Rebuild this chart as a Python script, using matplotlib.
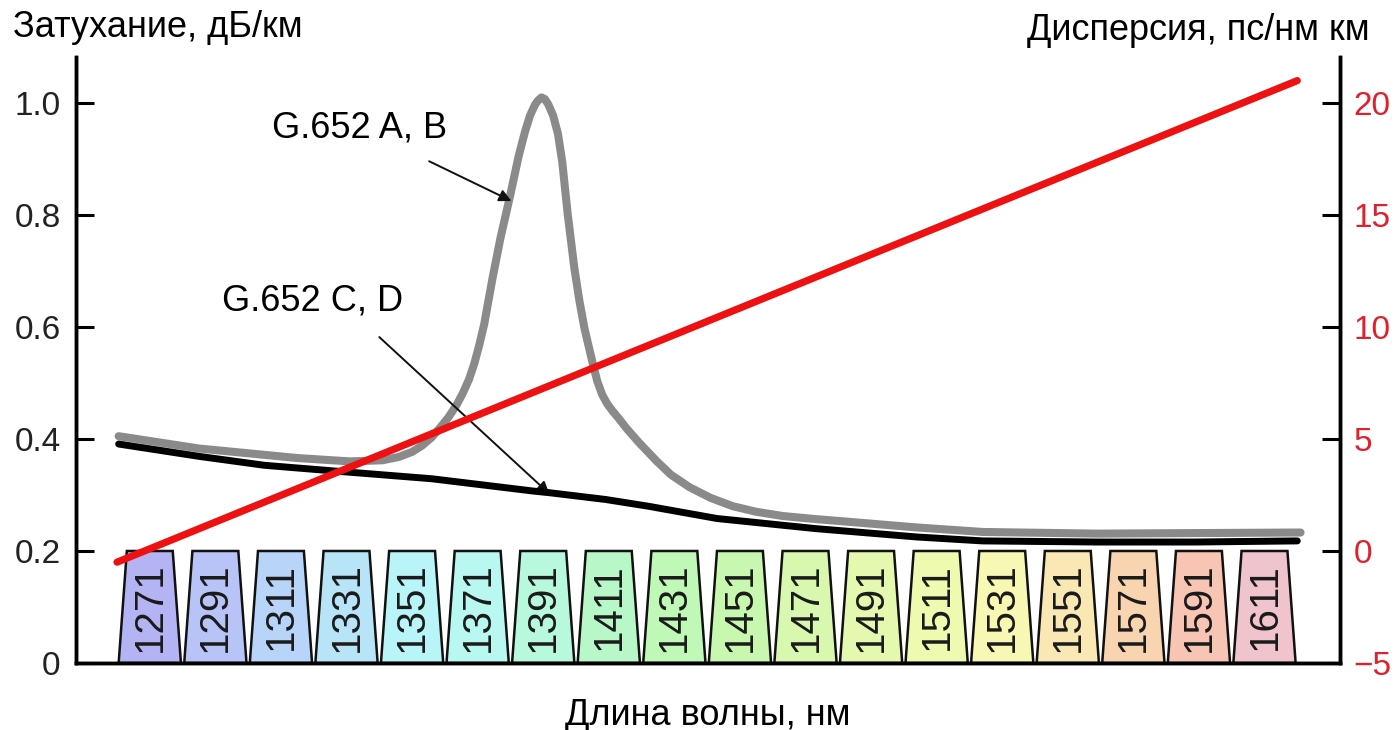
import matplotlib
matplotlib.use("Agg")
import matplotlib.pyplot as plt
from matplotlib.patches import Polygon

plt.rcParams['font.family'] = ['Liberation Sans', 'DejaVu Sans']

# CWDM channel grid
channels = [1271, 1291, 1311, 1331, 1351, 1371, 1391, 1411, 1431,
            1451, 1471, 1491, 1511, 1531, 1551, 1571, 1591, 1611]
channel_colors = ['#b4b4f4', '#b8c4f8', '#b8d4f8', '#b8e4f8', '#b8f4f8', '#b8f8f0',
                  '#b8f8dc', '#b8f8c8', '#c0f8b8', '#c8f8b0', '#d8f8b0', '#e4f8b0',
                  '#eefab0', '#f6f8b4', '#fae8b4', '#f8d4b0', '#f8c4b4', '#f0c4cc']

# attenuation, G.652 A/B (water peak)
ab_wl = [1261.5, 1286, 1316, 1332, 1342, 1347, 1351, 1354, 1357, 1359.5, 1362, 1364.5,
         1366.5, 1368.4, 1370, 1371.5, 1373, 1375.5, 1378, 1380.7, 1383.5, 1385.5, 1387,
         1388.5, 1389.5, 1390.5, 1391.5, 1392.5, 1394, 1395.5, 1396.8, 1398.5, 1400.5,
         1402, 1403.6, 1406, 1407.5, 1409, 1410.5, 1412, 1414, 1416.4, 1420, 1425.5,
         1430, 1435.6, 1442, 1448.8, 1456, 1464, 1474, 1484.5, 1505, 1525, 1560, 1590, 1622]
ab_att = [0.405, 0.383, 0.366, 0.360, 0.362, 0.368, 0.377, 0.388, 0.403, 0.420, 0.438, 0.460,
          0.482, 0.507, 0.535, 0.568, 0.605, 0.686, 0.760, 0.829, 0.905, 0.950, 0.978,
          0.997, 1.005, 1.010, 1.007, 0.998, 0.978, 0.945, 0.895, 0.800, 0.705,
          0.648, 0.597, 0.5375, 0.503, 0.479, 0.463, 0.451, 0.437, 0.419, 0.395, 0.361,
          0.336, 0.314, 0.295, 0.280, 0.270, 0.2625, 0.257, 0.252, 0.242, 0.234, 0.231, 0.232, 0.233]

# attenuation, G.652 C/D (low water peak)
cd_wl = [1261.5, 1286, 1306, 1327, 1357, 1388, 1393, 1410, 1423, 1444, 1474,
         1505, 1525, 1560, 1590, 1621]
cd_att = [0.391, 0.369, 0.353, 0.343, 0.329, 0.307, 0.304, 0.292, 0.280, 0.258, 0.240,
          0.225, 0.218, 0.216, 0.216, 0.218]

# chromatic dispersion
disp_wl = [1261, 1621]
disp = [-0.5, 21.0]

fig = plt.figure(figsize=(13.95, 7.3), dpi=100)
ax = fig.add_axes([0.0545, 0.0918, 0.906, 0.830])
ax2 = ax.twinx()

ax.set_xlim(1248.5, 1634)
ax.set_ylim(0, 1.082)
ax2.set_ylim(-5, 22.05)

# channel filters
for wl, c in zip(channels, channel_colors):
    pts = [(wl - 9.5, 0), (wl + 9.5, 0), (wl + 7.0, 0.2), (wl - 7.0, 0.2)]
    ax.add_patch(Polygon(pts, closed=True, facecolor=c, edgecolor='#111111',
                         lw=1.8, zorder=1))
    ax.text(wl, 0.1, str(wl), rotation=90, ha='center', va='center',
            fontsize=29, color='#1a1a1a', zorder=2)

ax.plot(ab_wl, ab_att, color='#8a8a8a', lw=5.8, solid_capstyle='round',
        solid_joinstyle='round', zorder=3)
ax.plot(cd_wl, cd_att, color='black', lw=5.0, solid_capstyle='round',
        solid_joinstyle='round', zorder=4)
ax2.plot(disp_wl, disp, color='#ee1111', lw=5.2, solid_capstyle='round', zorder=5)

arrow = dict(arrowstyle='-|>', color='#111111', lw=1.4, mutation_scale=18,
             shrinkA=0, shrinkB=0)
ax.text(1335, 0.955, 'G.652 A, B', fontsize=26, ha='center', va='center')
ax.annotate('', xy=(1381.3, 0.825), xytext=(1356.2, 0.896), arrowprops=arrow)
ax.text(1320.5, 0.647, 'G.652 C, D', fontsize=26, ha='center', va='center')
ax.annotate('', xy=(1392.9, 0.302), xytext=(1341, 0.582), arrowprops=arrow)

ax.set_yticks([0, 0.2, 0.4, 0.6, 0.8, 1.0])
ax.set_yticklabels(['0', '0.2', '0.4', '0.6', '0.8', '1.0'])
ax2.set_yticks([-5, 0, 5, 10, 15, 20])
ax.set_xticks([])

ax.tick_params(axis='y', direction='in', length=13, width=2.2, pad=11,
               labelsize=24, labelcolor='#222222')
ax2.tick_params(axis='y', direction='in', length=13, width=2.2, pad=10,
                labelsize=24, labelcolor='#e0202c')

for a in (ax, ax2):
    a.spines['top'].set_visible(False)
    for s in ('left', 'right', 'bottom'):
        a.spines[s].set_linewidth(2.5)

ax.set_xlabel('Длина волны, нм', fontsize=26, labelpad=25)
fig.text(0.009, 0.962, 'Затухание, дБ/км', fontsize=26, ha='left', va='center')
fig.text(0.982, 0.958, 'Дисперсия, пс/нм км', fontsize=26, ha='right', va='center')

fig.savefig('out.png', dpi=100)
